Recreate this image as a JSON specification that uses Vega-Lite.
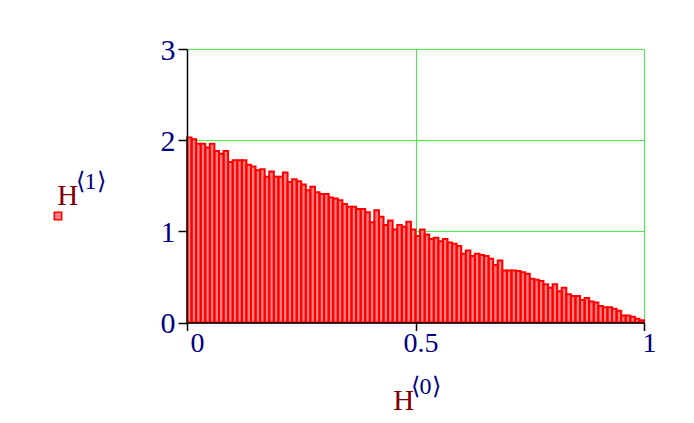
{
  "$schema": "https://vega.github.io/schema/vega-lite/v6.json",
  "width": 457,
  "height": 273.5,
  "autosize": "none",
  "padding": {"left": 187, "top": 49, "right": 50, "bottom": 100.5},
  "background": "white",
  "config": {"view": {"stroke": null}},
  "data": {"values": [
    {"x0":0.00,"x1":0.01,"h":2.03},{"x0":0.01,"x1":0.02,"h":2.01},{"x0":0.02,"x1":0.03,"h":1.96},{"x0":0.03,"x1":0.04,"h":1.96},{"x0":0.04,"x1":0.05,"h":1.92},
    {"x0":0.05,"x1":0.06,"h":1.96},{"x0":0.06,"x1":0.07,"h":1.88},{"x0":0.07,"x1":0.08,"h":1.85},{"x0":0.08,"x1":0.09,"h":1.88},{"x0":0.09,"x1":0.10,"h":1.76},
    {"x0":0.10,"x1":0.11,"h":1.78},{"x0":0.11,"x1":0.12,"h":1.78},{"x0":0.12,"x1":0.13,"h":1.78},{"x0":0.13,"x1":0.14,"h":1.73},{"x0":0.14,"x1":0.15,"h":1.71},
    {"x0":0.15,"x1":0.16,"h":1.67},{"x0":0.16,"x1":0.17,"h":1.68},{"x0":0.17,"x1":0.18,"h":1.60},{"x0":0.18,"x1":0.19,"h":1.655},{"x0":0.19,"x1":0.20,"h":1.60},
    {"x0":0.20,"x1":0.21,"h":1.60},{"x0":0.21,"x1":0.22,"h":1.645},{"x0":0.22,"x1":0.23,"h":1.54},{"x0":0.23,"x1":0.24,"h":1.57},{"x0":0.24,"x1":0.25,"h":1.55},
    {"x0":0.25,"x1":0.26,"h":1.515},{"x0":0.26,"x1":0.27,"h":1.45},{"x0":0.27,"x1":0.28,"h":1.49},{"x0":0.28,"x1":0.29,"h":1.43},{"x0":0.29,"x1":0.30,"h":1.41},
    {"x0":0.30,"x1":0.31,"h":1.41},{"x0":0.31,"x1":0.32,"h":1.37},{"x0":0.32,"x1":0.33,"h":1.36},{"x0":0.33,"x1":0.34,"h":1.34},{"x0":0.34,"x1":0.35,"h":1.30},
    {"x0":0.35,"x1":0.36,"h":1.27},{"x0":0.36,"x1":0.37,"h":1.27},{"x0":0.37,"x1":0.38,"h":1.245},{"x0":0.38,"x1":0.39,"h":1.245},{"x0":0.39,"x1":0.40,"h":1.21},
    {"x0":0.40,"x1":0.41,"h":1.10},{"x0":0.41,"x1":0.42,"h":1.23},{"x0":0.42,"x1":0.43,"h":1.16},{"x0":0.43,"x1":0.44,"h":1.07},{"x0":0.44,"x1":0.45,"h":1.12},
    {"x0":0.45,"x1":0.46,"h":1.02},{"x0":0.46,"x1":0.47,"h":1.07},{"x0":0.47,"x1":0.48,"h":1.05},{"x0":0.48,"x1":0.49,"h":1.105},{"x0":0.49,"x1":0.50,"h":1.02},
    {"x0":0.50,"x1":0.51,"h":0.95},{"x0":0.51,"x1":0.52,"h":1.02},{"x0":0.52,"x1":0.53,"h":0.966},{"x0":0.53,"x1":0.54,"h":0.915},{"x0":0.54,"x1":0.55,"h":0.93},
    {"x0":0.55,"x1":0.56,"h":0.89},{"x0":0.56,"x1":0.57,"h":0.915},{"x0":0.57,"x1":0.58,"h":0.878},{"x0":0.58,"x1":0.59,"h":0.863},{"x0":0.59,"x1":0.60,"h":0.84},
    {"x0":0.60,"x1":0.61,"h":0.753},{"x0":0.61,"x1":0.62,"h":0.79},{"x0":0.62,"x1":0.63,"h":0.73},{"x0":0.63,"x1":0.64,"h":0.753},{"x0":0.64,"x1":0.65,"h":0.74},
    {"x0":0.65,"x1":0.66,"h":0.73},{"x0":0.66,"x1":0.67,"h":0.70},{"x0":0.67,"x1":0.68,"h":0.63},{"x0":0.68,"x1":0.69,"h":0.68},{"x0":0.69,"x1":0.70,"h":0.57},
    {"x0":0.70,"x1":0.71,"h":0.57},{"x0":0.71,"x1":0.72,"h":0.57},{"x0":0.72,"x1":0.73,"h":0.565},{"x0":0.73,"x1":0.74,"h":0.55},{"x0":0.74,"x1":0.75,"h":0.535},
    {"x0":0.75,"x1":0.76,"h":0.48},{"x0":0.76,"x1":0.77,"h":0.47},{"x0":0.77,"x1":0.78,"h":0.454},{"x0":0.78,"x1":0.79,"h":0.42},{"x0":0.79,"x1":0.80,"h":0.38},
    {"x0":0.80,"x1":0.81,"h":0.42},{"x0":0.81,"x1":0.82,"h":0.343},{"x0":0.82,"x1":0.83,"h":0.38},{"x0":0.83,"x1":0.84,"h":0.31},{"x0":0.84,"x1":0.85,"h":0.29},
    {"x0":0.85,"x1":0.86,"h":0.29},{"x0":0.86,"x1":0.87,"h":0.247},{"x0":0.87,"x1":0.88,"h":0.27},{"x0":0.88,"x1":0.89,"h":0.23},{"x0":0.89,"x1":0.90,"h":0.22},
    {"x0":0.90,"x1":0.91,"h":0.18},{"x0":0.91,"x1":0.92,"h":0.166},{"x0":0.92,"x1":0.93,"h":0.166},{"x0":0.93,"x1":0.94,"h":0.15},{"x0":0.94,"x1":0.95,"h":0.13},
    {"x0":0.95,"x1":0.96,"h":0.078},{"x0":0.96,"x1":0.97,"h":0.078},{"x0":0.97,"x1":0.98,"h":0.063},{"x0":0.98,"x1":0.99,"h":0.04},{"x0":0.99,"x1":1.00,"h":0.025}
  ]},
  "resolve": {"axis": {"x": "independent", "y": "independent"}},
  "layer": [
    {
      "mark": {"type": "bar", "strokeWidth": 0},
      "encoding": {
        "x": {"field": "x0", "type": "quantitative",
          "scale": {"domain": [0, 1], "nice": false, "zero": false},
          "axis": {"orient": "bottom", "values": [0, 0.5, 1], "grid": true,
            "gridColor": {"condition": {"test": "datum.value == 0", "value": "transparent"}, "value": "#44ee44"},
            "gridWidth": 1, "domain": false, "ticks": false, "labels": false,
            "title": "H", "titleFont": "Liberation Serif, Times New Roman, serif", "titleFontSize": 29, "titleFontWeight": "normal",
            "titleColor": "#800000", "titleAlign": "left", "titleBaseline": "alphabetic",
            "titleX": 205.7, "titleY": 86.5, "zindex": 0}},
        "x2": {"field": "x1"},
        "y": {"field": "h", "type": "quantitative",
          "scale": {"domain": [0, 3], "nice": false},
          "axis": {"orient": "left", "values": [0, 1, 2, 3], "grid": true,
            "gridColor": {"condition": {"test": "datum.value == 0", "value": "transparent"}, "value": "#44ee44"},
            "gridWidth": 1, "domain": false, "ticks": false, "labels": false,
            "title": "H", "titleFont": "Liberation Serif, Times New Roman, serif", "titleFontSize": 29, "titleFontWeight": "normal",
            "titleColor": "#800000", "titleAngle": 0, "titleAlign": "left", "titleBaseline": "alphabetic",
            "titleX": -130.3, "titleY": 155, "zindex": 0}},
        "y2": {"datum": 0},
        "fill": {"datum": "H", "type": "nominal",
          "scale": {"range": ["#ff8080"]},
          "legend": {"orient": "none", "legendX": -134, "legendY": 162, "title": null,
            "labelExpr": "''", "symbolType": "square", "symbolSize": 56,
            "symbolStrokeColor": "#ff0000", "symbolStrokeWidth": 1.5, "padding": 0, "symbolOffset": 0}}
      }
    },
    {
      "mark": {"type": "bar", "filled": false, "color": "#ff0000", "strokeWidth": 2},
      "encoding": {
        "x": {"field": "x0", "type": "quantitative",
          "scale": {"domain": [0, 1], "nice": false, "zero": false},
          "axis": {"orient": "bottom", "values": [0, 0.5, 1], "format": "~g", "grid": false,
            "domain": true, "domainColor": "#000000", "domainWidth": 1.5,
            "ticks": true, "tickColor": "#000000", "tickSize": 8, "tickWidth": 1.5,
            "labels": true, "labelFont": "Liberation Serif, Times New Roman, serif", "labelFontSize": 28, "labelColor": "#000080",
            "labelPadding": -1, "labelFlush": false, "labelOverlap": false,
            "labelOffset": {"condition": {"test": "datum.value == 0", "value": 10}, "value": 5},
            "title": "⟨0⟩", "titleFont": "Liberation Serif, Times New Roman, serif", "titleFontSize": 24, "titleFontWeight": "normal",
            "titleColor": "#000080", "titleAlign": "left", "titleBaseline": "alphabetic",
            "titleX": 223, "titleY": 70.5, "zindex": 1}},
        "x2": {"field": "x1"},
        "y": {"field": "h", "type": "quantitative",
          "scale": {"domain": [0, 3], "nice": false},
          "axis": {"orient": "left", "values": [0, 1, 2, 3], "format": "~g", "grid": false,
            "domain": true, "domainColor": "#000000", "domainWidth": 1.5,
            "ticks": true, "tickColor": "#000000", "tickSize": 9, "tickWidth": 1.5,
            "labels": true, "labelFont": "Liberation Serif, Times New Roman, serif", "labelFontSize": 30, "labelColor": "#000080",
            "labelPadding": 3, "labelFlush": false, "labelOverlap": false, "labelOffset": 1,
            "title": "⟨1⟩", "titleFont": "Liberation Serif, Times New Roman, serif", "titleFontSize": 24, "titleFontWeight": "normal",
            "titleColor": "#000080", "titleAngle": 0, "titleAlign": "left", "titleBaseline": "alphabetic",
            "titleX": -112, "titleY": 139, "zindex": 1}},
        "y2": {"datum": 0}
      }
    }
  ]
}
